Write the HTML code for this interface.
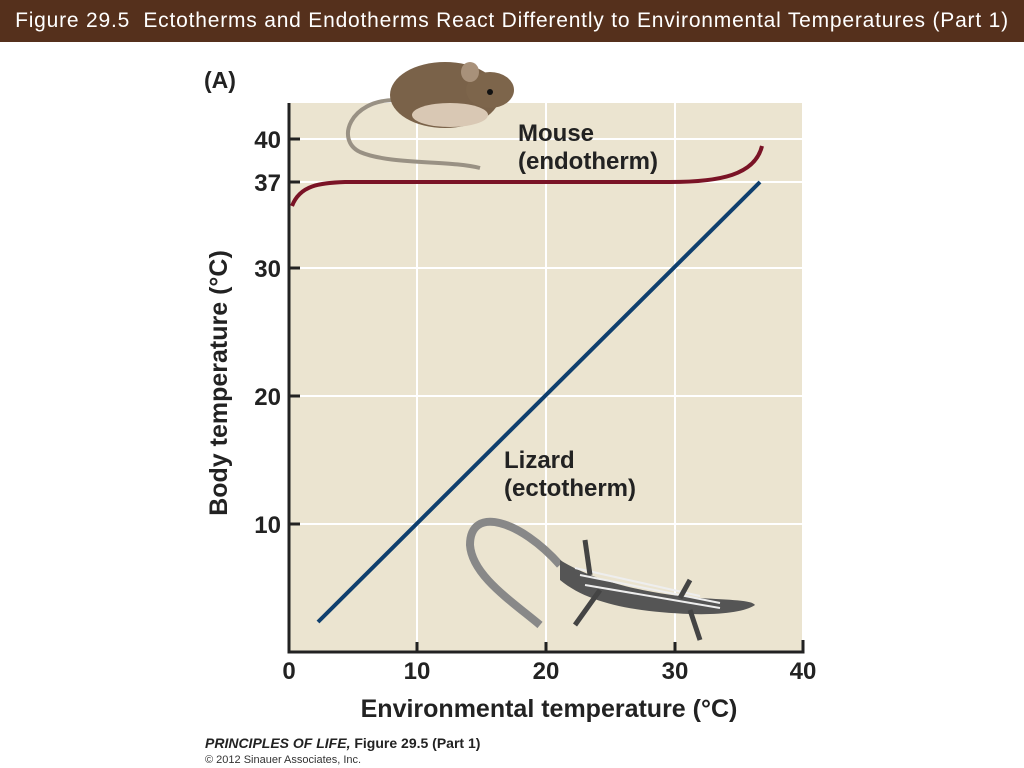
<!DOCTYPE html>
<html><head><meta charset="utf-8"><style>
body{margin:0;width:1024px;height:768px;background:#fff;overflow:hidden;font-family:"Liberation Sans",Arial,sans-serif}
.bar{position:absolute;left:0;top:0;width:1024px;height:42px;background:#55301c;color:#fff;font-size:21px;letter-spacing:0.8px;line-height:42px;text-align:center;white-space:nowrap}
</style></head><body>
<div class="bar">Figure 29.5&nbsp; Ectotherms and Endotherms React Differently to Environmental Temperatures (Part 1)</div>
<svg width="1024" height="768" style="position:absolute;left:0;top:0" font-family="Liberation Sans, Arial, sans-serif">
<rect x="289" y="103" width="513" height="549" fill="#ebe4d0"/>
<g stroke="#fff" stroke-width="2">
<line x1="417" y1="103" x2="417" y2="652"/><line x1="546" y1="103" x2="546" y2="652"/><line x1="675" y1="103" x2="675" y2="652"/>
<line x1="289" y1="139" x2="802" y2="139"/><line x1="289" y1="182" x2="802" y2="182"/><line x1="289" y1="268" x2="802" y2="268"/><line x1="289" y1="396" x2="802" y2="396"/><line x1="289" y1="524" x2="802" y2="524"/>
</g>
<g stroke="#222" stroke-width="3" fill="none">
<polyline points="289,103 289,652 803,652 803,640"/>
<line x1="289" y1="139" x2="300" y2="139"/><line x1="289" y1="182" x2="300" y2="182"/><line x1="289" y1="268" x2="300" y2="268"/><line x1="289" y1="396" x2="300" y2="396"/><line x1="289" y1="524" x2="300" y2="524"/>
<line x1="417" y1="652" x2="417" y2="642"/><line x1="546" y1="652" x2="546" y2="642"/><line x1="675" y1="652" x2="675" y2="642"/>
</g>
<g font-weight="bold" font-size="24" fill="#222" text-anchor="end">
<text x="281" y="148">40</text><text x="281" y="191">37</text><text x="281" y="277">30</text><text x="281" y="405">20</text><text x="281" y="533">10</text>
</g>
<g font-weight="bold" font-size="24" fill="#222" text-anchor="middle">
<text x="289" y="679">0</text><text x="417" y="679">10</text><text x="546" y="679">20</text><text x="675" y="679">30</text><text x="803" y="679">40</text>
<text x="549" y="717" font-size="25">Environmental temperature (°C)</text>
<text transform="translate(227,383) rotate(-90)" font-size="25">Body temperature (°C)</text>
</g>
<text x="204" y="88" font-weight="bold" font-size="23" fill="#222">(A)</text>
<text x="518" y="141" font-weight="bold" font-size="24" fill="#222">Mouse</text>
<text x="518" y="169" font-weight="bold" font-size="24" fill="#222">(endotherm)</text>
<text x="504" y="468" font-weight="bold" font-size="24" fill="#222">Lizard</text>
<text x="504" y="496" font-weight="bold" font-size="24" fill="#222">(ectotherm)</text>
<line x1="318" y1="622" x2="760" y2="182" stroke="#0f3f6e" stroke-width="4"/>
<path d="M292,206 C300,185 320,183 345,182 L670,182 C720,182 755,175 762,146" stroke="#7a1326" stroke-width="4" fill="none"/>
<!-- mouse -->
<path d="M395,100 C350,100 335,140 360,152 C390,165 450,160 480,168" stroke="#999184" stroke-width="4" fill="none"/>
<ellipse cx="445" cy="95" rx="55" ry="33" fill="#7a6249"/>
<ellipse cx="490" cy="90" rx="24" ry="18" fill="#7d654b"/>
<ellipse cx="450" cy="115" rx="38" ry="12" fill="#d9c8b4"/>
<ellipse cx="470" cy="72" rx="9" ry="10" fill="#a8917a"/>
<circle cx="490" cy="92" r="3" fill="#111"/>
<!-- lizard -->
<path d="M560,565 C520,520 470,505 470,545 C472,575 510,600 540,625" stroke="#888" stroke-width="8" fill="none"/>
<path d="M560,560 C600,585 660,595 700,598 C730,600 752,600 755,605 C745,612 720,615 690,614 C640,612 590,605 560,580 Z" fill="#555"/>
<g stroke="#eee" stroke-width="2"><line x1="580" y1="575" x2="720" y2="603"/><line x1="585" y1="585" x2="720" y2="608"/><line x1="575" y1="568" x2="700" y2="596"/></g>
<g stroke="#444" stroke-width="5"><line x1="600" y1="590" x2="575" y2="625"/><line x1="690" y1="610" x2="700" y2="640"/><line x1="590" y1="575" x2="585" y2="540"/><line x1="680" y1="598" x2="690" y2="580"/></g>
<text x="205" y="748" font-weight="bold" font-style="italic" font-size="14" fill="#222">PRINCIPLES OF LIFE, <tspan font-style="normal">Figure 29.5 (Part 1)</tspan></text>
<text x="205" y="763" font-size="11" fill="#333">© 2012 Sinauer Associates, Inc.</text>
</svg>
</body></html>
